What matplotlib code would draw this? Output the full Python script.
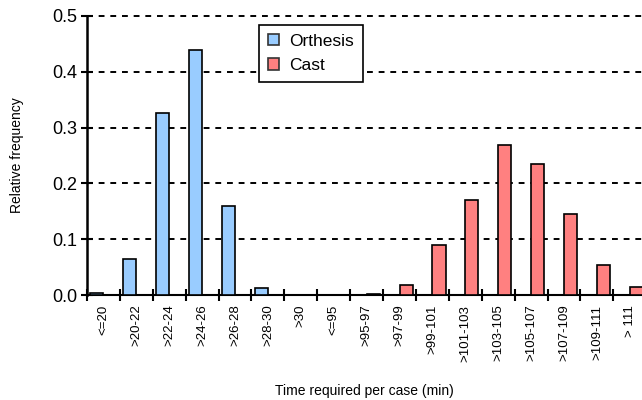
import matplotlib.pyplot as plt
import numpy as np

plt.rcParams['font.family'] = ['Liberation Sans', 'DejaVu Sans']

# categorias de tiempo por caso
categorias = ['<=20', '>20-22', '>22-24', '>24-26', '>26-28', '>28-30', '>30',
              '<=95', '>95-97', '>97-99', '>99-101', '>101-103', '>103-105',
              '>105-107', '>107-109', '>109-111', '> 111']

# frecuencias relativas de cada grupo
orthesis = [0.003, 0.064, 0.327, 0.439, 0.160, 0.012, 0.0,
            0.0, 0.0, 0.0, 0.0, 0.0, 0.0, 0.0, 0.0, 0.0, 0.0]
cast = [0.0, 0.0, 0.0, 0.0, 0.0, 0.0, 0.0,
        0.0, 0.002, 0.018, 0.090, 0.171, 0.269, 0.235, 0.145, 0.053, 0.015]

x = np.arange(len(categorias))
ancho = 0.4

fig = plt.figure(figsize=(6.42, 4.0), dpi=100)
ax = fig.add_axes([0.1355, 0.2625, 0.8645, 0.6975])

ax.bar(x - ancho / 2, orthesis, ancho, color='#99ccff', edgecolor='black', lw=1.2, label='Orthesis', zorder=3)
ax.bar(x + ancho / 2, cast, ancho, color='#ff8080', edgecolor='black', lw=1.2, label='Cast', zorder=3)

ax.set_xlim(-0.5, 16.37)
ax.set_ylim(0, 0.5)
ax.set_yticks([0.0, 0.1, 0.2, 0.3, 0.4, 0.5])
ax.set_yticklabels(['0.0', '0.1', '0.2', '0.3', '0.4', '0.5'], fontsize=13)

# lineas de division entre categorias y etiquetas centradas
ax.set_xticks(x - 0.5)
ax.set_xticklabels([])
ax.set_xticks(x, minor=True)
ax.set_xticklabels(categorias, minor=True, rotation=90, fontsize=9.5, va='top')
ax.tick_params(axis='x', which='major', direction='inout', length=8, width=1.5)
ax.tick_params(axis='x', which='minor', length=0, pad=7)
ax.tick_params(axis='y', direction='inout', length=8, width=1.5, pad=3)

for y in [0.1, 0.2, 0.3, 0.4, 0.5]:
    ax.axhline(y, color='black', ls=(0, (3, 3)), lw=1.4, zorder=1, clip_on=False)

for lado in ['top', 'right']:
    ax.spines[lado].set_visible(False)
ax.spines['left'].set_linewidth(1.8)
ax.spines['bottom'].set_linewidth(1.5)

ax.set_ylabel('Relative frequency', fontsize=10, labelpad=20)
ax.set_xlabel('Time required per case (min)', fontsize=10, labelpad=16)

leg = ax.legend(loc='upper left', bbox_to_anchor=(0.31, 0.968), fontsize=12.5, frameon=True,
                framealpha=1, fancybox=False, edgecolor='black', handlelength=0.65, handleheight=0.65,
                borderpad=0.5, labelspacing=0.55, handletextpad=0.6, borderaxespad=0)
leg.get_frame().set_linewidth(1.2)
leg.set_zorder(5)
for parche in leg.get_patches():
    parche.set_edgecolor('#333333')

fig.savefig('out.png', dpi=100)
